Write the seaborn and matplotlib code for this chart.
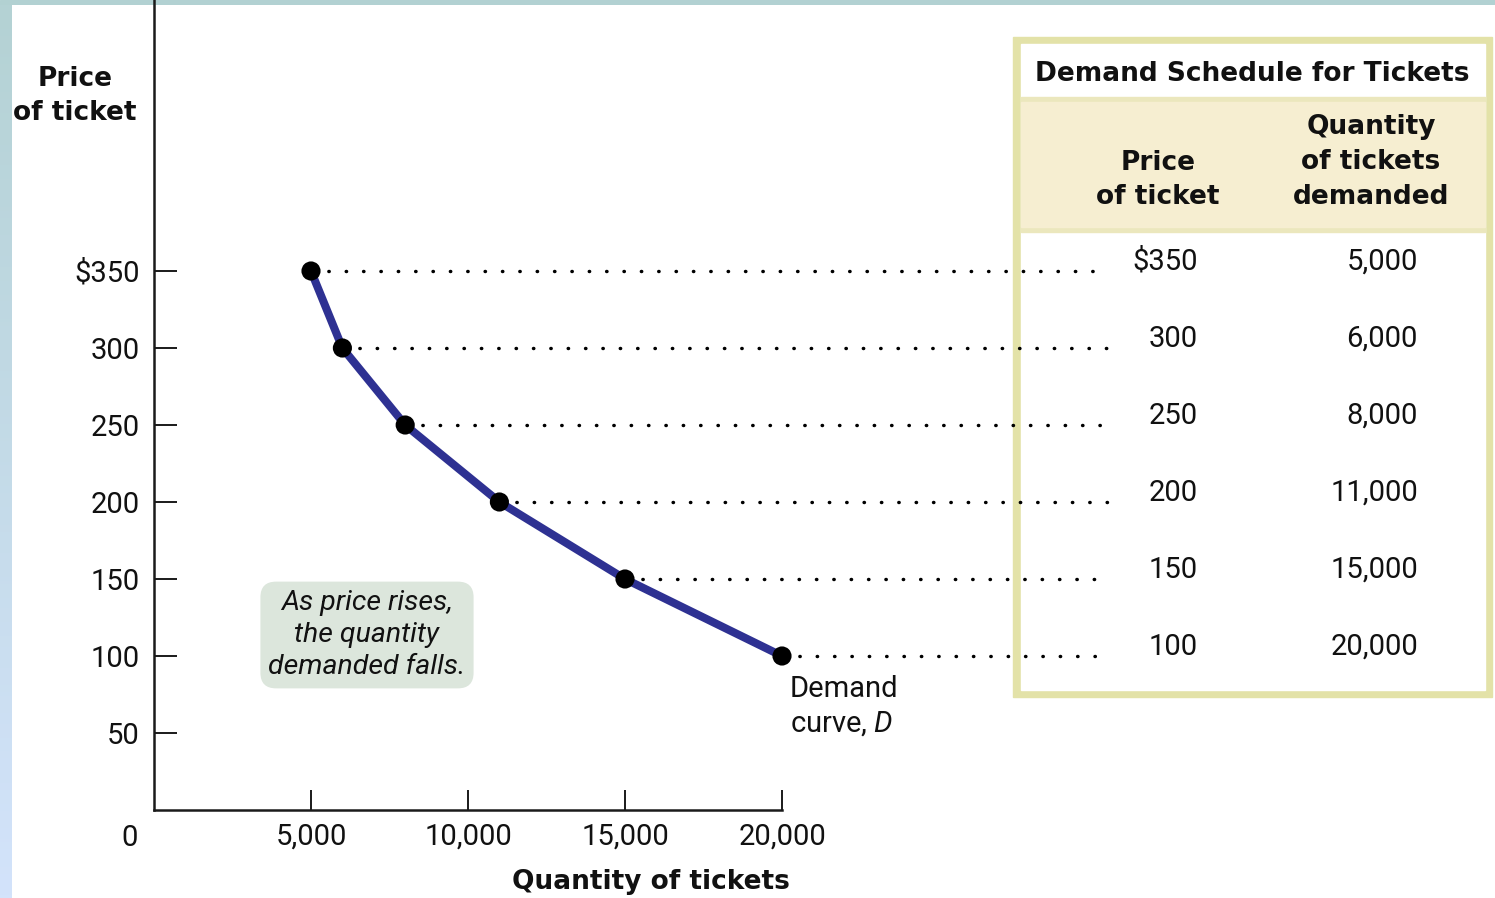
import numpy as np
import pandas as pd
import matplotlib
matplotlib.use("Agg")
import matplotlib.pyplot as plt
import matplotlib.transforms as mtransforms
from matplotlib.patches import Rectangle
import seaborn as sns

# 需求表数据
prices = [350, 300, 250, 200, 150, 100]
quantities = [5000, 6000, 8000, 11000, 15000, 20000]
price_labels = ["$350", "300", "250", "200", "150", "100"]
qty_labels = ["5,000", "6,000", "8,000", "11,000", "15,000", "20,000"]

# 坐标轴刻度
y_ticks = [50, 100, 150, 200, 250, 300, 350]
y_tick_labels = ["50", "100", "150", "200", "250", "300", "$350"]
x_ticks = [5000, 10000, 15000, 20000]
x_tick_labels = ["5,000", "10,000", "15,000", "20,000"]

sns.set_style("white")
plt.rcParams["font.family"] = ["Roboto", "DejaVu Sans"]
plt.rcParams["mathtext.fontset"] = "custom"
plt.rcParams["mathtext.it"] = "Roboto:italic"
plt.rcParams["mathtext.rm"] = "Roboto"

W, H = 1495, 898
fig = plt.figure(figsize=(W / 100, H / 100), dpi=100)
fig.patch.set_facecolor("white")

def fx(x):
    return x / W

def fy(y):
    return 1 - y / H

# 背景装饰条
top = fig.add_axes([0, fy(5), 1, 5 / H])
top.set_axis_off()
top.add_patch(Rectangle((0, 0), 1, 1, transform=top.transAxes, color="#b2d1d2"))
left = fig.add_axes([0, 0, fx(12), fy(5)])
grad = np.linspace(0, 1, 256).reshape(-1, 1)
cmap = matplotlib.colors.LinearSegmentedColormap.from_list("g", ["#b4d2d4", "#d3e3fb"])
left.imshow(grad, aspect="auto", cmap=cmap, extent=[0, 1, 0, 1], origin="upper")
left.set_axis_off()

# 主坐标轴
ax = fig.add_axes([fx(154), 88 / H, (W - 154) / W, 810 / H])
ax.set_facecolor("none")
ax.set_xlim(0, (W - 154) / 0.0314)
ax.set_ylim(0, 810 / 1.54)

df = pd.DataFrame({"quantity": quantities, "price": prices})

# 虚线连到表格
x_end = 30400
ax.hlines(df["price"], df["quantity"], x_end, colors="black",
          linestyles=(0, (0.1, 4.9)), linewidth=2.5, capstyle="round", zorder=2)

sns.lineplot(data=df, x="quantity", y="price", sort=False, color="#2e3192",
             linewidth=5.8, ax=ax, zorder=3, clip_on=False)
sns.scatterplot(data=df, x="quantity", y="price", color="black", s=190,
                edgecolor="none", ax=ax, zorder=4, clip_on=False)

for side in ["top", "right"]:
    ax.spines[side].set_visible(False)
for side in ["left", "bottom"]:
    ax.spines[side].set_linewidth(1.8)
    ax.spines[side].set_color("#1a1a1a")
ax.spines["bottom"].set_bounds(0, 20000)
ax.spines["left"].set_bounds(0, 810 / 1.54)

ax.set_yticks(y_ticks)
ax.set_yticklabels(y_tick_labels)
ax.set_xticks(x_ticks)
ax.set_xticklabels(x_tick_labels)
ax.tick_params(axis="y", left=True, direction="in", length=16.5, width=1.4, color="#1a1a1a",
               pad=10.5, labelsize=21, labelcolor="#111111")
ax.tick_params(axis="x", bottom=True, direction="in", length=14.5, width=1.4, color="#1a1a1a",
               pad=9, labelsize=21, labelcolor="#111111")
ax.set_xlabel("")
ax.set_ylabel("")
ax.annotate("0", xy=(0, 0), xytext=(-17.5, -20), textcoords="offset points",
            ha="center", va="center", fontsize=21, color="#111111")

# 轴标题
fig.text(fx(75), fy(96), "Price\nof ticket", ha="center", va="center",
         fontsize=19, fontweight="bold", family="DejaVu Sans", linespacing=1.45,
         color="#111111")
fig.text(fx(651), fy(882), "Quantity of tickets", ha="center", va="center",
         fontsize=19, fontweight="bold", family="DejaVu Sans", color="#111111")

# 说明框
ax.annotate("As price rises,\nthe quantity\ndemanded falls.", xy=(fx(367), fy(635)),
            xycoords="figure fraction", ha="center", va="center", fontsize=20.5,
            style="italic", linespacing=1.32, color="#111111",
            bbox=dict(boxstyle="round,pad=0.28,rounding_size=0.55", fc="#dce6dc", ec="none"))

# 曲线标签
ax.annotate("Demand\ncurve, $D$", xy=(quantities[-1], prices[-1]), xytext=(5.8, -14),
            textcoords="offset points", ha="left", va="top", fontsize=21,
            linespacing=1.25, color="#111111")

# 需求表
fig.patches.append(Rectangle((fx(1013), fy(697)), fx(1492) - fx(1013), fy(37) - fy(697),
                             transform=fig.transFigure, color="#e3e2a8", zorder=-2))
fig.patches.append(Rectangle((fx(1021), fy(690)), fx(1485) - fx(1021), fy(44) - fy(690),
                             transform=fig.transFigure, color="white", zorder=-2))
fig.patches.append(Rectangle((fx(1021), fy(232)), fx(1485) - fx(1021), fy(97) - fy(232),
                             transform=fig.transFigure, color="#ebe7bd", zorder=-2))
fig.patches.append(Rectangle((fx(1021), fy(227)), fx(1485) - fx(1021), fy(102) - fy(227),
                             transform=fig.transFigure, color="#f6eed1", zorder=-2))

fig.text(fx(1252), fy(74), "Demand Schedule for Tickets", ha="center", va="center",
         fontsize=19, fontweight="bold", family="DejaVu Sans", color="#111111")
fig.text(fx(1158), fy(180), "Price\nof ticket", ha="center", va="center",
         fontsize=19, fontweight="bold", family="DejaVu Sans", linespacing=1.45,
         color="#111111")
fig.text(fx(1371), fy(162), "Quantity\nof tickets\ndemanded", ha="center", va="center",
         fontsize=19, fontweight="bold", family="DejaVu Sans", linespacing=1.45,
         color="#111111")

blend = mtransforms.blended_transform_factory(fig.transFigure, ax.transData)
for p, pl, ql in zip(prices, price_labels, qty_labels):
    ax.annotate(pl, xy=(fx(1198), p), xycoords=blend, xytext=(0, 6.5),
                textcoords="offset points", ha="right", va="center",
                fontsize=21, color="#111111")
    ax.annotate(ql, xy=(fx(1418), p), xycoords=blend, xytext=(0, 6.5),
                textcoords="offset points", ha="right", va="center",
                fontsize=21, color="#111111")

fig.savefig("out.png", dpi=100)
